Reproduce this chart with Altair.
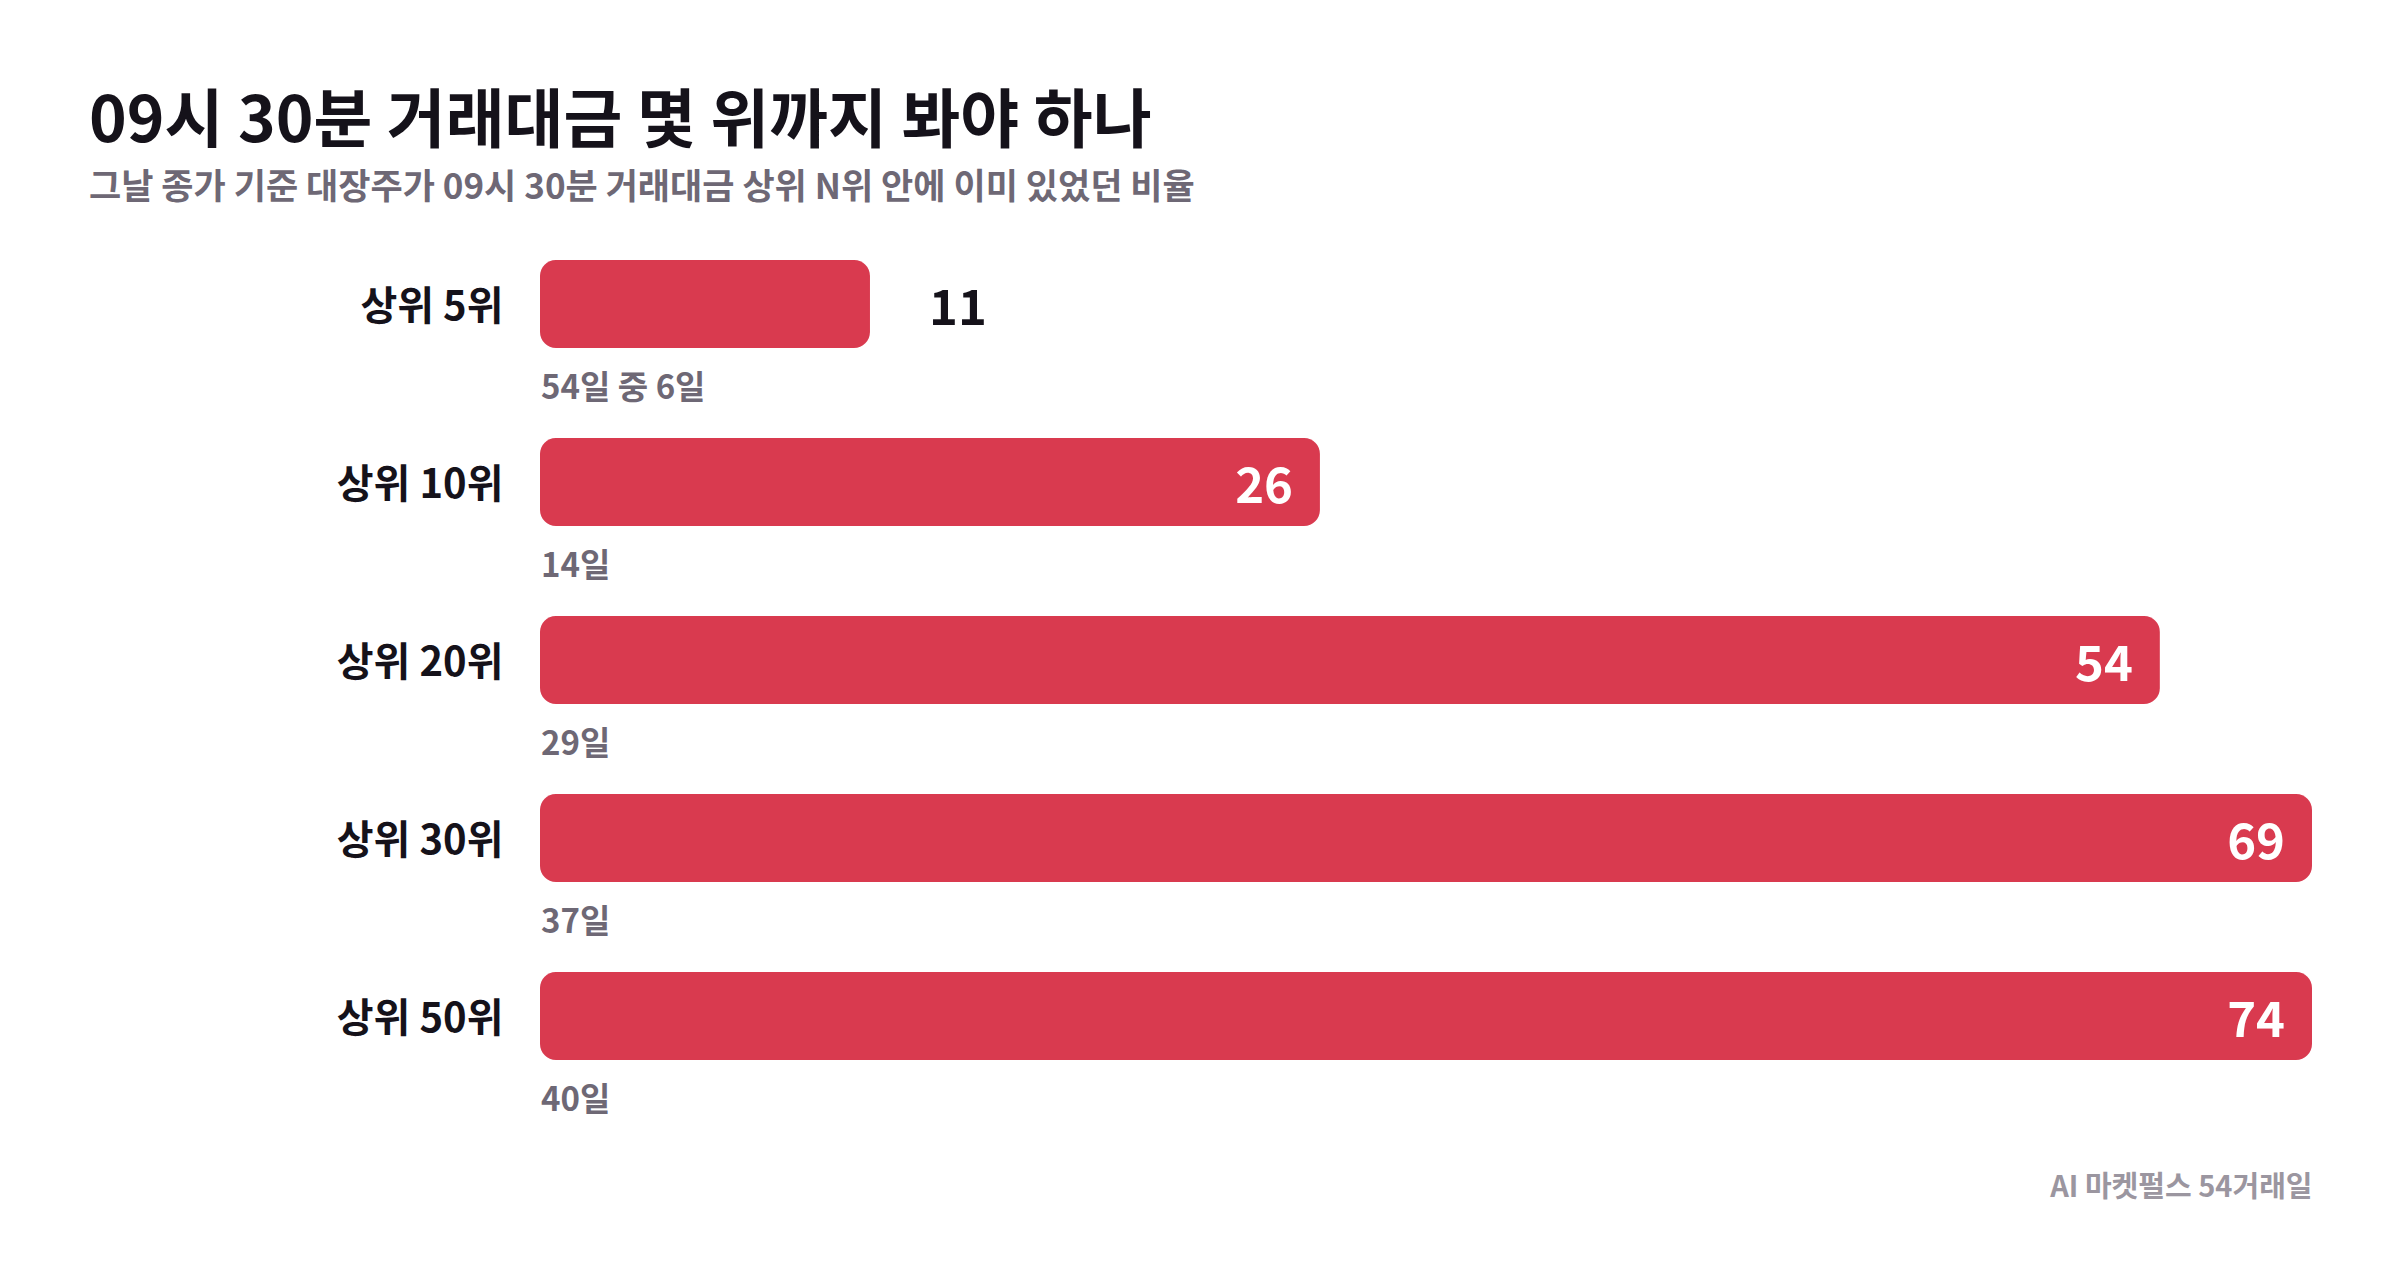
import altair as alt
import pandas as pd

# ---- data ----
ranks = ["상위 5위", "상위 10위", "상위 20위", "상위 30위", "상위 50위"]
pcts = [11, 26, 54, 69, 74]
sub_labels = ["54일 중 6일", "14일", "29일", "37일", "40일"]

TITLE = "09시 30분 거래대금 몇 위까지 봐야 하나"
SUBTITLE = "그날 종가 기준 대장주가 09시 30분 거래대금 상위 N위 안에 이미 있었던 비율"
FOOTER = "AI 마켓펄스 54거래일"

df = pd.DataFrame({"rank": ranks, "pct": pcts, "sub": sub_labels})

# ---- style ----
FONT = "Noto Sans CJK KR"
RED = "#d93a4f"
INK = "#15121a"
GREY = "#6e6875"
LIGHT = "#9b96a0"

W = 1772
H = 890
X_MAX = 59.07

y_enc = alt.Y(
    "rank:N",
    sort=ranks,
    scale=alt.Scale(paddingInner=0.5056, paddingOuter=0.2528),
    axis=alt.Axis(
        title=None, domain=False, ticks=False, grid=False,
        labelPadding=37, labelOffset=4, labelFont=FONT, labelFontSize=40,
        labelFontWeight="bold", labelColor=INK,
    ),
)

x_enc = alt.X(
    "pct:Q",
    scale=alt.Scale(domain=[0, X_MAX], clamp=True, nice=False, zero=True),
    axis=alt.Axis(
        title=FOOTER, labels=False, ticks=False, domain=False, grid=False,
        titleX=W, titleY=82, titleAlign="right", titleBaseline="middle",
        titleFont=FONT, titleFontSize=29, titleFontWeight="bold",
        titleColor=LIGHT,
    ),
)

base = alt.Chart(df).encode(y=y_enc)

bars = base.mark_bar(color=RED, cornerRadius=16).encode(x=x_enc)

inside = base.transform_filter("datum.pct >= 15").mark_text(
    align="right", baseline="middle", dx=-27, dy=6,
    font=FONT, fontSize=49, fontWeight="bold", color="white",
).encode(x=x_enc, text="pct:Q")

outside = base.transform_filter("datum.pct < 15").mark_text(
    align="left", baseline="middle", dx=59, dy=6,
    font=FONT, fontSize=49, fontWeight="bold", color=INK,
).encode(x=x_enc, text="pct:Q")

subs = base.mark_text(
    align="left", baseline="middle", dx=1, dy=85,
    font=FONT, fontSize=33, fontWeight="bold", color=GREY,
).encode(x=alt.value(0), text="sub:N")

chart = alt.layer(bars, inside, outside, subs).properties(
    width=W,
    height=H,
    autosize=alt.AutoSizeParams(type="none"),
    padding={"left": 532, "top": 207, "right": 80, "bottom": 170},
    background="white",
    title=alt.TitleParams(
        text=TITLE, subtitle=SUBTITLE, anchor="start", frame="group",
        dx=-451, dy=-3, offset=6,
        font=FONT, fontSize=64, fontWeight="bold", color=INK,
        subtitleFont=FONT, subtitleFontSize=35, subtitleFontWeight="bold",
        subtitleColor=GREY, subtitlePadding=16,
    ),
).configure_view(stroke=None)

chart.save("out.html", embed_options={"renderer": "svg", "actions": False})
